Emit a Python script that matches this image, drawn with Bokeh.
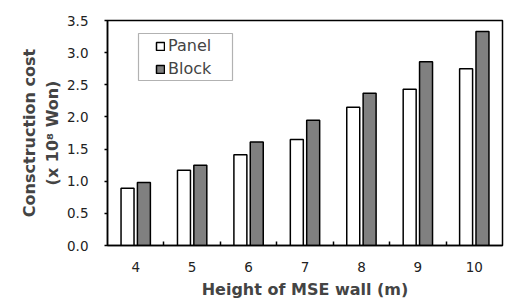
from bokeh.plotting import figure
from bokeh.models import (ColumnDataSource, FixedTicker, Range1d, Legend, LegendItem,
                          CustomJSTickFormatter, BoxAnnotation)
from bokeh.transform import dodge
from bokeh.embed import file_html
from bokeh.resources import INLINE

heights = [4, 5, 6, 7, 8, 9, 10]
panel = [0.89, 1.17, 1.41, 1.65, 2.15, 2.43, 2.75]
block = [0.98, 1.25, 1.61, 1.95, 2.37, 2.86, 3.33]
y_ticks = [0.0, 0.5, 1.0, 1.5, 2.0, 2.5, 3.0, 3.5]
boundaries = [4.5, 5.5, 6.5, 7.5, 8.5, 9.5]

src = ColumnDataSource(dict(h=heights, panel=panel, block=block))

FONT = "DejaVu Sans"

p = figure(width=506, height=301, output_backend="svg", toolbar_location=None,
           x_range=Range1d(3.5, 10.5), y_range=Range1d(0, 3.5),
           min_border_left=107, min_border_top=20, min_border_right=4, min_border_bottom=54)

r1 = p.vbar(x=dodge("h", -0.145), top="panel", width=0.23, source=src,
            fill_color="white", line_color="black", line_width=1.5)
r2 = p.vbar(x=dodge("h", 0.145), top="block", width=0.23, source=src,
            fill_color="#808080", line_color="black", line_width=1.5)

p.xgrid.visible = False
p.ygrid.visible = False
p.outline_line_color = "black"
p.outline_line_width = 1.5

xa = p.xaxis[0]
xa.ticker = FixedTicker(ticks=heights, minor_ticks=boundaries)
xa.major_tick_line_color = None
xa.minor_tick_in = 4
xa.minor_tick_out = 0
xa.minor_tick_line_color = "black"
xa.minor_tick_line_width = 1.5
xa.axis_line_color = "black"
xa.axis_line_width = 1.5
xa.major_label_standoff = 10
xa.major_label_text_font = FONT
xa.major_label_text_font_size = "13.5px"
xa.major_label_text_color = "#222222"
xa.axis_label = "Height of MSE wall (m)"
xa.axis_label_text_font = FONT
xa.axis_label_text_font_style = "bold"
xa.axis_label_text_font_size = "16px"
xa.axis_label_standoff = 5

ya = p.yaxis[0]
ya.ticker = FixedTicker(ticks=y_ticks, minor_ticks=[])
ya.formatter = CustomJSTickFormatter(code="return tick.toFixed(1);")
ya.major_tick_in = 0
ya.major_tick_out = 3
ya.major_tick_line_width = 1.5
ya.axis_line_width = 1.5
ya.major_label_standoff = 16
ya.major_label_text_font = FONT
ya.major_label_text_font_size = "13.5px"
ya.major_label_text_color = "#222222"
ya.axis_label = "Consctruction cost\n(x 10\u2078 Won)"
ya.axis_label_text_font = FONT
ya.axis_label_text_font_style = "bold"
ya.axis_label_text_font_size = "16px"
ya.axis_label_standoff = 2

legend = Legend(items=[LegendItem(label="Panel", renderers=[r1]),
                       LegendItem(label="Block", renderers=[r2])],
                location=(48, 167))
legend.label_text_font = FONT
legend.label_text_font_size = "16px"
legend.glyph_width = 10
legend.glyph_height = 10
legend.label_standoff = 3
legend.spacing = 4
legend.padding = 3
legend.margin = 0
legend.border_line_color = None
legend.background_fill_alpha = 0
legend.label_height = 18
p.add_layout(legend)

legend_box = BoxAnnotation(left=138, right=232, top=33, bottom=80,
                           left_units="canvas", right_units="canvas",
                           top_units="canvas", bottom_units="canvas",
                           fill_alpha=0, line_color="black", line_width=1.2, level="overlay")
p.add_layout(legend_box)

open("out.html", "w").write(file_html(p, INLINE))
